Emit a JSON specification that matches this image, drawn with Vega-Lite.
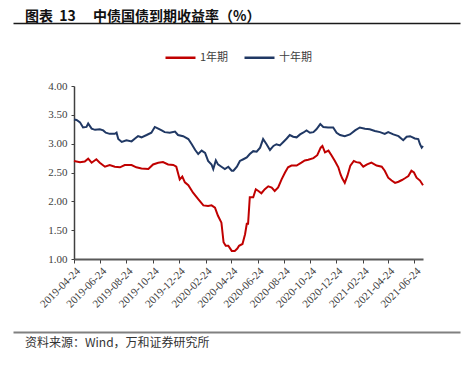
{
  "$schema": "https://vega.github.io/schema/vega-lite/v6.json",
  "padding": {"left": 13, "top": 3, "right": 5, "bottom": 5},
  "background": "#ffffff",
  "config": {"view": {"stroke": null}},
  "datasets": {
    "yields": [
      {"date": "2019-04-24", "series": "十年期", "yield": 3.42},
      {"date": "2019-04-30", "series": "十年期", "yield": 3.41},
      {"date": "2019-05-08", "series": "十年期", "yield": 3.37},
      {"date": "2019-05-15", "series": "十年期", "yield": 3.28},
      {"date": "2019-05-23", "series": "十年期", "yield": 3.29},
      {"date": "2019-05-27", "series": "十年期", "yield": 3.35},
      {"date": "2019-06-04", "series": "十年期", "yield": 3.26},
      {"date": "2019-06-12", "series": "十年期", "yield": 3.24},
      {"date": "2019-06-23", "series": "十年期", "yield": 3.25},
      {"date": "2019-07-01", "series": "十年期", "yield": 3.23},
      {"date": "2019-07-07", "series": "十年期", "yield": 3.19},
      {"date": "2019-07-16", "series": "十年期", "yield": 3.17},
      {"date": "2019-07-28", "series": "十年期", "yield": 3.17},
      {"date": "2019-08-01", "series": "十年期", "yield": 3.19},
      {"date": "2019-08-05", "series": "十年期", "yield": 3.08},
      {"date": "2019-08-13", "series": "十年期", "yield": 3.03},
      {"date": "2019-08-24", "series": "十年期", "yield": 3.06},
      {"date": "2019-09-05", "series": "十年期", "yield": 3.04},
      {"date": "2019-09-13", "series": "十年期", "yield": 3.09},
      {"date": "2019-09-20", "series": "十年期", "yield": 3.13},
      {"date": "2019-09-28", "series": "十年期", "yield": 3.11},
      {"date": "2019-10-10", "series": "十年期", "yield": 3.15},
      {"date": "2019-10-21", "series": "十年期", "yield": 3.19},
      {"date": "2019-10-29", "series": "十年期", "yield": 3.29},
      {"date": "2019-11-06", "series": "十年期", "yield": 3.26},
      {"date": "2019-11-14", "series": "十年期", "yield": 3.23},
      {"date": "2019-11-21", "series": "十年期", "yield": 3.20},
      {"date": "2019-12-03", "series": "十年期", "yield": 3.19},
      {"date": "2019-12-15", "series": "十年期", "yield": 3.21},
      {"date": "2019-12-22", "series": "十年期", "yield": 3.15},
      {"date": "2020-01-03", "series": "十年期", "yield": 3.13},
      {"date": "2020-01-15", "series": "十年期", "yield": 3.08},
      {"date": "2020-01-23", "series": "十年期", "yield": 2.99},
      {"date": "2020-01-31", "series": "十年期", "yield": 2.89},
      {"date": "2020-02-07", "series": "十年期", "yield": 2.82},
      {"date": "2020-02-15", "series": "十年期", "yield": 2.88},
      {"date": "2020-02-23", "series": "十年期", "yield": 2.84},
      {"date": "2020-03-01", "series": "十年期", "yield": 2.70},
      {"date": "2020-03-09", "series": "十年期", "yield": 2.64},
      {"date": "2020-03-13", "series": "十年期", "yield": 2.56},
      {"date": "2020-03-19", "series": "十年期", "yield": 2.71},
      {"date": "2020-03-24", "series": "十年期", "yield": 2.64},
      {"date": "2020-04-01", "series": "十年期", "yield": 2.60},
      {"date": "2020-04-09", "series": "十年期", "yield": 2.56},
      {"date": "2020-04-17", "series": "十年期", "yield": 2.60},
      {"date": "2020-04-25", "series": "十年期", "yield": 2.53},
      {"date": "2020-04-29", "series": "十年期", "yield": 2.53},
      {"date": "2020-05-07", "series": "十年期", "yield": 2.60},
      {"date": "2020-05-14", "series": "十年期", "yield": 2.70},
      {"date": "2020-05-22", "series": "十年期", "yield": 2.73},
      {"date": "2020-05-30", "series": "十年期", "yield": 2.76},
      {"date": "2020-06-06", "series": "十年期", "yield": 2.82},
      {"date": "2020-06-14", "series": "十年期", "yield": 2.87},
      {"date": "2020-06-22", "series": "十年期", "yield": 2.86},
      {"date": "2020-06-30", "series": "十年期", "yield": 2.93},
      {"date": "2020-07-07", "series": "十年期", "yield": 3.08},
      {"date": "2020-07-15", "series": "十年期", "yield": 2.99},
      {"date": "2020-07-23", "series": "十年期", "yield": 2.89},
      {"date": "2020-07-31", "series": "十年期", "yield": 2.96},
      {"date": "2020-08-07", "series": "十年期", "yield": 2.99},
      {"date": "2020-08-15", "series": "十年期", "yield": 2.97},
      {"date": "2020-08-23", "series": "十年期", "yield": 3.03},
      {"date": "2020-08-31", "series": "十年期", "yield": 3.09},
      {"date": "2020-09-07", "series": "十年期", "yield": 3.15},
      {"date": "2020-09-15", "series": "十年期", "yield": 3.12},
      {"date": "2020-09-23", "series": "十年期", "yield": 3.11},
      {"date": "2020-10-01", "series": "十年期", "yield": 3.16},
      {"date": "2020-10-08", "series": "十年期", "yield": 3.19},
      {"date": "2020-10-16", "series": "十年期", "yield": 3.23},
      {"date": "2020-10-24", "series": "十年期", "yield": 3.19},
      {"date": "2020-11-01", "series": "十年期", "yield": 3.20},
      {"date": "2020-11-08", "series": "十年期", "yield": 3.25},
      {"date": "2020-11-17", "series": "十年期", "yield": 3.34},
      {"date": "2020-11-24", "series": "十年期", "yield": 3.29},
      {"date": "2020-12-05", "series": "十年期", "yield": 3.28},
      {"date": "2020-12-17", "series": "十年期", "yield": 3.28},
      {"date": "2020-12-25", "series": "十年期", "yield": 3.19},
      {"date": "2021-01-02", "series": "十年期", "yield": 3.15},
      {"date": "2021-01-13", "series": "十年期", "yield": 3.13},
      {"date": "2021-01-25", "series": "十年期", "yield": 3.16},
      {"date": "2021-02-06", "series": "十年期", "yield": 3.23},
      {"date": "2021-02-17", "series": "十年期", "yield": 3.28},
      {"date": "2021-03-01", "series": "十年期", "yield": 3.26},
      {"date": "2021-03-12", "series": "十年期", "yield": 3.25},
      {"date": "2021-03-24", "series": "十年期", "yield": 3.22},
      {"date": "2021-04-05", "series": "十年期", "yield": 3.20},
      {"date": "2021-04-16", "series": "十年期", "yield": 3.17},
      {"date": "2021-04-24", "series": "十年期", "yield": 3.20},
      {"date": "2021-05-06", "series": "十年期", "yield": 3.16},
      {"date": "2021-05-18", "series": "十年期", "yield": 3.13},
      {"date": "2021-05-29", "series": "十年期", "yield": 3.06},
      {"date": "2021-06-06", "series": "十年期", "yield": 3.12},
      {"date": "2021-06-14", "series": "十年期", "yield": 3.13},
      {"date": "2021-06-25", "series": "十年期", "yield": 3.09},
      {"date": "2021-07-03", "series": "十年期", "yield": 3.08},
      {"date": "2021-07-07", "series": "十年期", "yield": 2.99},
      {"date": "2021-07-11", "series": "十年期", "yield": 2.93},
      {"date": "2021-07-14", "series": "十年期", "yield": 2.96},
      {"date": "2019-04-24", "series": "1年期", "yield": 2.70},
      {"date": "2019-05-08", "series": "1年期", "yield": 2.68},
      {"date": "2019-05-19", "series": "1年期", "yield": 2.69},
      {"date": "2019-05-27", "series": "1年期", "yield": 2.74},
      {"date": "2019-06-04", "series": "1年期", "yield": 2.67},
      {"date": "2019-06-15", "series": "1年期", "yield": 2.73},
      {"date": "2019-06-23", "series": "1年期", "yield": 2.67},
      {"date": "2019-07-05", "series": "1年期", "yield": 2.60},
      {"date": "2019-07-16", "series": "1年期", "yield": 2.63},
      {"date": "2019-07-28", "series": "1年期", "yield": 2.60},
      {"date": "2019-08-09", "series": "1年期", "yield": 2.59},
      {"date": "2019-08-20", "series": "1年期", "yield": 2.63},
      {"date": "2019-09-05", "series": "1年期", "yield": 2.63},
      {"date": "2019-09-16", "series": "1年期", "yield": 2.59},
      {"date": "2019-09-28", "series": "1年期", "yield": 2.57},
      {"date": "2019-10-14", "series": "1年期", "yield": 2.56},
      {"date": "2019-10-25", "series": "1年期", "yield": 2.64},
      {"date": "2019-11-06", "series": "1年期", "yield": 2.67},
      {"date": "2019-11-17", "series": "1年期", "yield": 2.68},
      {"date": "2019-11-29", "series": "1年期", "yield": 2.64},
      {"date": "2019-12-11", "series": "1年期", "yield": 2.63},
      {"date": "2019-12-18", "series": "1年期", "yield": 2.60},
      {"date": "2019-12-26", "series": "1年期", "yield": 2.38},
      {"date": "2020-01-01", "series": "1年期", "yield": 2.43},
      {"date": "2020-01-07", "series": "1年期", "yield": 2.33},
      {"date": "2020-01-15", "series": "1年期", "yield": 2.28},
      {"date": "2020-01-26", "series": "1年期", "yield": 2.15},
      {"date": "2020-02-07", "series": "1年期", "yield": 2.04},
      {"date": "2020-02-19", "series": "1年期", "yield": 1.93},
      {"date": "2020-03-01", "series": "1年期", "yield": 1.92},
      {"date": "2020-03-09", "series": "1年期", "yield": 1.93},
      {"date": "2020-03-17", "series": "1年期", "yield": 1.89},
      {"date": "2020-03-24", "series": "1年期", "yield": 1.75},
      {"date": "2020-04-01", "series": "1年期", "yield": 1.63},
      {"date": "2020-04-06", "series": "1年期", "yield": 1.29},
      {"date": "2020-04-11", "series": "1年期", "yield": 1.23},
      {"date": "2020-04-17", "series": "1年期", "yield": 1.23},
      {"date": "2020-04-25", "series": "1年期", "yield": 1.14},
      {"date": "2020-05-02", "series": "1年期", "yield": 1.14},
      {"date": "2020-05-08", "series": "1年期", "yield": 1.18},
      {"date": "2020-05-12", "series": "1年期", "yield": 1.23},
      {"date": "2020-05-20", "series": "1年期", "yield": 1.26},
      {"date": "2020-05-26", "series": "1年期", "yield": 1.43},
      {"date": "2020-05-30", "series": "1年期", "yield": 1.61},
      {"date": "2020-06-02", "series": "1年期", "yield": 1.61},
      {"date": "2020-06-06", "series": "1年期", "yield": 2.07},
      {"date": "2020-06-14", "series": "1年期", "yield": 2.07},
      {"date": "2020-06-20", "series": "1年期", "yield": 2.21},
      {"date": "2020-06-26", "series": "1年期", "yield": 2.18},
      {"date": "2020-07-03", "series": "1年期", "yield": 2.14},
      {"date": "2020-07-11", "series": "1年期", "yield": 2.21},
      {"date": "2020-07-19", "series": "1年期", "yield": 2.26},
      {"date": "2020-07-27", "series": "1年期", "yield": 2.24},
      {"date": "2020-08-03", "series": "1年期", "yield": 2.18},
      {"date": "2020-08-11", "series": "1年期", "yield": 2.24},
      {"date": "2020-08-19", "series": "1年期", "yield": 2.38},
      {"date": "2020-08-27", "series": "1年期", "yield": 2.50},
      {"date": "2020-09-03", "series": "1年期", "yield": 2.59},
      {"date": "2020-09-11", "series": "1年期", "yield": 2.62},
      {"date": "2020-09-23", "series": "1年期", "yield": 2.62},
      {"date": "2020-10-04", "series": "1年期", "yield": 2.67},
      {"date": "2020-10-12", "series": "1年期", "yield": 2.71},
      {"date": "2020-10-20", "series": "1年期", "yield": 2.72},
      {"date": "2020-11-01", "series": "1年期", "yield": 2.75},
      {"date": "2020-11-10", "series": "1年期", "yield": 2.80},
      {"date": "2020-11-18", "series": "1年期", "yield": 2.93},
      {"date": "2020-11-22", "series": "1年期", "yield": 2.96},
      {"date": "2020-11-28", "series": "1年期", "yield": 2.85},
      {"date": "2020-12-06", "series": "1年期", "yield": 2.88},
      {"date": "2020-12-13", "series": "1年期", "yield": 2.80},
      {"date": "2020-12-21", "series": "1年期", "yield": 2.70},
      {"date": "2020-12-29", "series": "1年期", "yield": 2.59},
      {"date": "2021-01-03", "series": "1年期", "yield": 2.47},
      {"date": "2021-01-07", "series": "1年期", "yield": 2.40},
      {"date": "2021-01-13", "series": "1年期", "yield": 2.32},
      {"date": "2021-01-19", "series": "1年期", "yield": 2.44},
      {"date": "2021-01-26", "series": "1年期", "yield": 2.62},
      {"date": "2021-02-03", "series": "1年期", "yield": 2.70},
      {"date": "2021-02-09", "series": "1年期", "yield": 2.68},
      {"date": "2021-02-17", "series": "1年期", "yield": 2.67},
      {"date": "2021-02-25", "series": "1年期", "yield": 2.60},
      {"date": "2021-03-06", "series": "1年期", "yield": 2.64},
      {"date": "2021-03-16", "series": "1年期", "yield": 2.67},
      {"date": "2021-03-28", "series": "1年期", "yield": 2.62},
      {"date": "2021-04-09", "series": "1年期", "yield": 2.60},
      {"date": "2021-04-16", "series": "1年期", "yield": 2.53},
      {"date": "2021-04-24", "series": "1年期", "yield": 2.41},
      {"date": "2021-05-02", "series": "1年期", "yield": 2.36},
      {"date": "2021-05-10", "series": "1年期", "yield": 2.32},
      {"date": "2021-05-18", "series": "1年期", "yield": 2.34},
      {"date": "2021-05-26", "series": "1年期", "yield": 2.37},
      {"date": "2021-06-02", "series": "1年期", "yield": 2.40},
      {"date": "2021-06-10", "series": "1年期", "yield": 2.44},
      {"date": "2021-06-17", "series": "1年期", "yield": 2.53},
      {"date": "2021-06-23", "series": "1年期", "yield": 2.50},
      {"date": "2021-06-29", "series": "1年期", "yield": 2.41},
      {"date": "2021-07-07", "series": "1年期", "yield": 2.36},
      {"date": "2021-07-14", "series": "1年期", "yield": 2.28}
    ]
  },
  "bounds": "flush",
  "spacing": 63,
  "resolve": {"scale": {"color": "independent"}, "legend": {"color": "independent"}},
  "vconcat": [
    {
      "width": 447,
      "height": 0,
      "data": {"values": []},
      "mark": "point",
      "encoding": {
        "x": {
          "field": "v",
          "type": "quantitative",
          "scale": {"domain": [0, 1]},
          "axis": {"title": null, "labels": false, "ticks": false, "grid": false, "domainColor": "#1a1a1a", "domainWidth": 1.3}
        }
      },
      "title": {
        "text": "图表 \u00a013\u3000 中债国债到期收益率（%）",
        "anchor": "start",
        "orient": "top",
        "dx": 12,
        "offset": -21,
        "font": "Noto Sans CJK SC",
        "fontSize": 14,
        "fontWeight": "bold",
        "color": "#111111"
      }
    },
    {
      "width": 447,
      "height": 173,
      "data": {"name": "yields"},
      "mark": {"type": "line", "strokeWidth": 2},
      "encoding": {
        "x": {
          "field": "date",
          "type": "temporal",
          "scale": {
            "type": "utc",
            "range": [61, 410],
            "domain": [
              {"year": 2019, "month": 4, "date": 24, "utc": true},
              {"year": 2021, "month": 7, "date": 14, "utc": true}
            ]
          },
          "axis": {
            "title": null,
            "grid": false,
            "values": [
              {"year": 2019, "month": 4, "date": 24, "utc": true},
              {"year": 2019, "month": 6, "date": 24, "utc": true},
              {"year": 2019, "month": 8, "date": 24, "utc": true},
              {"year": 2019, "month": 10, "date": 24, "utc": true},
              {"year": 2019, "month": 12, "date": 24, "utc": true},
              {"year": 2020, "month": 2, "date": 24, "utc": true},
              {"year": 2020, "month": 4, "date": 24, "utc": true},
              {"year": 2020, "month": 6, "date": 24, "utc": true},
              {"year": 2020, "month": 8, "date": 24, "utc": true},
              {"year": 2020, "month": 10, "date": 24, "utc": true},
              {"year": 2020, "month": 12, "date": 24, "utc": true},
              {"year": 2021, "month": 2, "date": 24, "utc": true},
              {"year": 2021, "month": 4, "date": 24, "utc": true},
              {"year": 2021, "month": 6, "date": 24, "utc": true}
            ],
            "format": "%Y-%m-%d",
            "labelAngle": -45,
            "labelAlign": "right",
            "labelBaseline": "top",
            "labelPadding": 2,
            "labelOverlap": false,
            "labelFlush": false,
            "labelBound": false,
            "labelFont": "Liberation Serif",
            "labelFontSize": 11,
            "labelColor": "#404040",
            "domainColor": "#595959",
            "domainWidth": 2,
            "tickColor": "#404040",
            "tickSize": 4,
            "tickWidth": 1
          }
        },
        "y": {
          "field": "yield",
          "type": "quantitative",
          "scale": {"domain": [1, 4], "nice": false, "zero": false},
          "axis": {
            "title": null,
            "grid": false,
            "offset": -61,
            "values": [1, 1.5, 2, 2.5, 3, 3.5, 4],
            "format": ".2f",
            "labelFont": "Liberation Serif",
            "labelFontSize": 11,
            "labelColor": "#404040",
            "labelPadding": 4,
            "domainColor": "#404040",
            "domainWidth": 1.5,
            "tickColor": "#404040",
            "tickSize": 3
          }
        },
        "color": {
          "field": "series",
          "type": "nominal",
          "scale": {"domain": ["1年期", "十年期"], "range": ["#C00000", "#203864"]},
          "legend": {
            "title": null,
            "orient": "none",
            "direction": "horizontal",
            "legendX": 151,
            "legendY": -45,
            "symbolType": "stroke",
            "symbolSize": 900,
            "symbolStrokeWidth": 2.5,
            "labelFont": "Noto Sans CJK SC",
            "labelFontSize": 11,
            "labelColor": "#404040",
            "labelOffset": 3,
            "columnPadding": 10
          }
        }
      }
    },
    {
      "width": 447,
      "height": 10,
      "data": {"values": []},
      "mark": "point",
      "encoding": {
        "x": {
          "field": "v",
          "type": "quantitative",
          "scale": {"domain": [0, 1]},
          "axis": {"title": null, "labels": false, "ticks": false, "grid": false, "domainColor": "#808080", "domainWidth": 2}
        }
      },
      "title": {
        "text": "资料来源：Wind，万和证券研究所",
        "anchor": "start",
        "orient": "bottom",
        "dx": 12,
        "offset": 6,
        "font": "Noto Sans CJK SC",
        "fontSize": 12,
        "fontWeight": "normal",
        "color": "#333333"
      }
    }
  ]
}
